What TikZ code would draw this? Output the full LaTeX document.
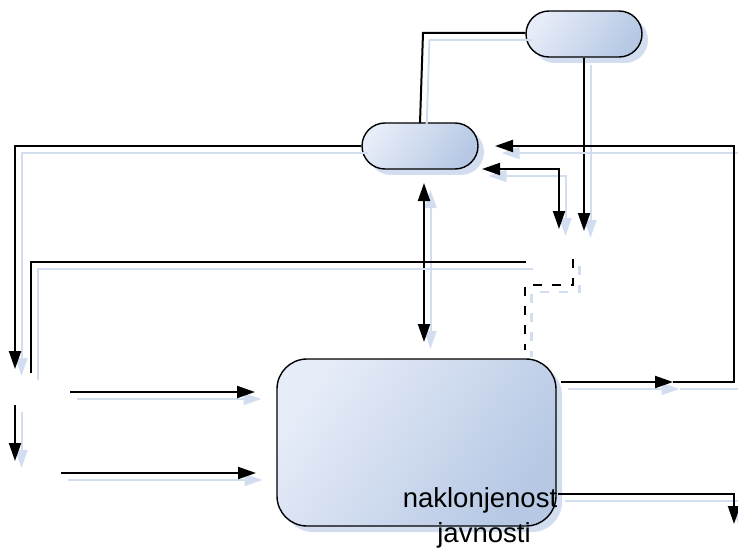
\documentclass[tikz,border=0pt]{standalone}
\usepackage{fontspec}
\setmainfont{Liberation Sans}
\usetikzlibrary{shapes.misc,arrows.meta,shadows}
\definecolor{shc}{RGB}{210,222,240}
\definecolor{fillA}{RGB}{230,236,248}
\definecolor{fillB}{RGB}{182,200,228}
\tikzset{
  tipA/.tip={Triangle[length=18pt,width=12pt]},
  conn/.style={line width=2pt, draw=black},
  shconn/.style={line width=2pt, draw=shc},
  pill/.style={rounded rectangle, draw=black, line width=1.4pt, minimum width=116pt,
    minimum height=46pt, inner sep=0pt, top color=fillA, bottom color=fillB, shading angle=55,
    drop shadow={shadow xshift=6pt, shadow yshift=-6pt, fill=shc, opacity=1}},
  bigbox/.style={rectangle, rounded corners=30pt, draw=black, line width=1.4pt,
    minimum width=279pt, minimum height=167pt, inner sep=0pt, top color=fillA, bottom color=fillB,
    shading angle=55,
    drop shadow={shadow xshift=6pt, shadow yshift=-6pt, fill=shc, opacity=1}},
  lbl/.style={font=\fontsize{27.5}{34}\selectfont, inner sep=0pt, anchor=base},
  dashedconn/.style={line width=2.6pt, dash pattern=on 9pt off 10pt}
}
\newcommand\twoline[2]{%
  \begin{scope}[transform canvas={shift={(6.5pt,-7pt)}}]
    \draw[shconn,#1] #2;
  \end{scope}
  \draw[conn,#1] #2;}
\begin{document}
\begin{tikzpicture}[x=1pt,y=-1pt]
\useasboundingbox (0,0) rectangle (738,548);
% nodes
\node[pill] (tp) at (584,34) {};
\node[pill] (mp) at (420,146) {};
\node[bigbox] (bb) at (416.5,442.5) {};
% coordinates
\coordinate (a1) at (423,33);
\coordinate (a2) at (420,123);
\coordinate (c1) at (584,231);
\coordinate (j) at (673,382);
\coordinate (r1) at (734,382);
\coordinate (r2) at (734,146);
\coordinate (r3) at (495,146);
\coordinate (d1) at (482,169);
\coordinate (d2) at (559,169);
\coordinate (d3) at (559,229);
\coordinate (va1) at (424,183);
\coordinate (va2) at (424,342);
\coordinate (l1) at (15,146);
\coordinate (l2) at (15,369);
\coordinate (m1) at (31,373);
\coordinate (m2) at (31,262);
\coordinate (m3) at (526,262);
\coordinate (s1) at (573,259);
\coordinate (s2) at (573,285);
\coordinate (s3) at (525,285);
\coordinate (s4) at (525,350);
\coordinate (i1) at (70,392);
\coordinate (i2) at (255,392);
\coordinate (k1) at (61,473);
\coordinate (k2) at (256,473);
\coordinate (q1) at (15,405);
\coordinate (q2) at (15,461);
\coordinate (b1) at (561,382);
\coordinate (o1) at (558,494);
\coordinate (o2) at (734,494);
\coordinate (o3) at (734,524);
% connectors
\twoline{}{(tp.west |- a1) -- (a1) -- (a2)}
\twoline{-tipA}{(tp.south) -- (c1)}
\twoline{-tipA}{(j) -- (r1) -- (r2) -- (r3)}
\twoline{tipA-tipA}{(d1) -- (d2) -- (d3)}
\twoline{tipA-tipA}{(va1) -- (va2)}
\twoline{-tipA}{(mp.west) -- (l1) -- (l2)}
\twoline{}{(m1) -- (m2) -- (m3)}
\twoline{dashedconn}{(s1) -- (s2) -- (s3) -- (s4)}
\twoline{-tipA}{(i1) -- (i2)}
\twoline{-tipA}{(k1) -- (k2)}
\twoline{-tipA}{(q1) -- (q2)}
\twoline{-tipA}{(b1) -- (j)}
\twoline{-tipA}{(o1) -- (o2) -- (o3)}
% labels
\node[lbl] (t1) at (480,507) {naklonjenost};
\node[lbl] (t2) at (484,542) {javnosti};
\end{tikzpicture}
\end{document}
